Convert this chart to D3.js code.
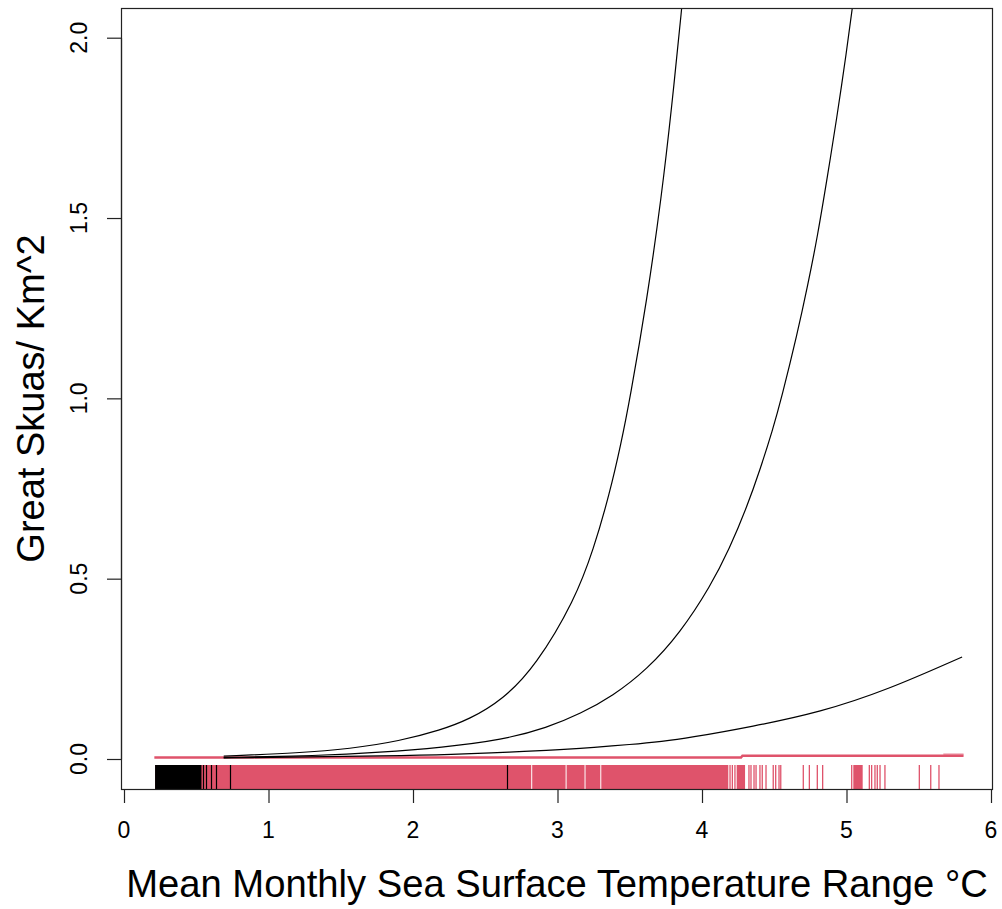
<!DOCTYPE html>
<html>
<head>
<meta charset="utf-8">
<script src="https://cdn.jsdelivr.net/npm/d3@7"></script>
<style>
  html, body { margin: 0; padding: 0; background: #fff; }
  svg { display: block; }
  text { font-family: "Liberation Sans", Arial, sans-serif; fill: #000; }
</style>
</head>
<body>
<script>
// ---------- data ----------
const xTicks = [0, 1, 2, 3, 4, 5, 6];
const yTicks = [0.0, 0.5, 1.0, 1.5, 2.0];
const yTickLabels = ["0.0", "0.5", "1.0", "1.5", "2.0"];

// upper curve
const upperX = [0.69, 1.22, 1.56, 1.91, 2.19, 2.39, 2.62, 2.85, 3.12, 3.25, 3.36, 3.44, 3.50, 3.62, 3.72, 3.79, 3.86, 3.90];
const upperY = [0.008, 0.017, 0.028, 0.050, 0.080, 0.110, 0.164, 0.258, 0.441, 0.582, 0.735, 0.875, 0.996, 1.275, 1.560, 1.805, 2.083, 2.25];
// middle curve
const midX = [0.69, 1.34, 1.77, 2.20, 2.62, 2.93, 3.16, 3.38, 3.62, 3.85, 4.06, 4.19, 4.31, 4.40, 4.49, 4.55, 4.66, 4.73, 4.80, 4.87, 4.93, 5.00, 5.05, 5.09];
const midY = [0.004, 0.009, 0.018, 0.032, 0.053, 0.087, 0.126, 0.174, 0.248, 0.350, 0.480, 0.583, 0.698, 0.800, 0.914, 1.000, 1.180, 1.310, 1.450, 1.620, 1.770, 1.960, 2.110, 2.240];
// lower curve
const lowX = [0.69, 1.92, 2.28, 2.55, 2.76, 3.02, 3.25, 3.50, 3.73, 3.90, 4.35, 4.82, 5.28, 5.80];
const lowY = [0.003, 0.009, 0.013, 0.017, 0.021, 0.026, 0.032, 0.040, 0.049, 0.058, 0.090, 0.130, 0.191, 0.283];

// red near-zero line
const redX = [0.21, 4.27, 4.28, 5.81];
const redY = [0.004, 0.004, 0.009, 0.009];
const redX2 = [5.67, 5.81];
const redY2 = [0.013, 0.013];

// red rug: solid stretches [from, to] and single ticks
const redRugStart = [0.215, 2.825, 3.063, 3.194, 3.303, 4.240, 5.047];
const redRugEnd   = [2.818, 3.056, 3.187, 3.296, 4.182, 4.298, 5.112];
const redRugTicks = [4.194, 4.210, 4.228, 4.325, 4.339, 4.360, 4.374, 4.401, 4.417, 4.443, 4.493, 4.510, 4.533, 4.545,
                     4.701, 4.743, 4.798, 4.835, 5.036, 5.158, 5.174, 5.197, 5.213, 5.232, 5.266, 5.504, 5.583, 5.640];
// black rug
const blackRugStart = [0.215];
const blackRugEnd   = [0.536];
const blackRugTicks = [0.547, 0.570, 0.604, 0.639, 0.733, 2.653];

// ---------- layout ----------
const W = 1002, H = 909;
const box = {left: 121, right: 993, top: 8, bottom: 789};
const RED = "#DF536B";

const svg = d3.select("body").append("svg").attr("width", W).attr("height", H);

const x = d3.scaleLinear().domain([0, 6]).range([124, 991]);
const y = d3.scaleLinear().domain([0, 2]).range([759, 37.7]);

svg.append("clipPath").attr("id", "plotclip")
  .append("rect").attr("x", box.left).attr("y", box.top)
  .attr("width", box.right - box.left).attr("height", box.bottom - box.top);

const plot = svg.append("g").attr("clip-path", "url(#plotclip)");

const line = d3.line().x(d => x(d[0])).y(d => y(d[1])).curve(d3.curveBasis);
const zip = (a, b) => a.map((v, i) => [v, b[i]]);

// rug (red first, black on top)
const rugTop = box.bottom - 24;
plot.selectAll("rect.redrug").data(zip(redRugStart, redRugEnd)).enter().append("rect")
  .attr("x", d => x(d[0])).attr("width", d => Math.max(1, x(d[1]) - x(d[0])))
  .attr("y", rugTop).attr("height", box.bottom - rugTop).attr("fill", RED);
plot.selectAll("line.redrug").data(redRugTicks).enter().append("line")
  .attr("x1", d => x(d)).attr("x2", d => x(d))
  .attr("y1", rugTop).attr("y2", box.bottom).attr("stroke", RED).attr("stroke-width", 1.3);
plot.selectAll("rect.blackrug").data(zip(blackRugStart, blackRugEnd)).enter().append("rect")
  .attr("x", d => x(d[0])).attr("width", d => x(d[1]) - x(d[0]))
  .attr("y", rugTop).attr("height", box.bottom - rugTop).attr("fill", "#000");
plot.selectAll("line.blackrug").data(blackRugTicks).enter().append("line")
  .attr("x1", d => Math.round(x(d)) + 0.5).attr("x2", d => Math.round(x(d)) + 0.5)
  .attr("y1", rugTop).attr("y2", box.bottom).attr("stroke", "#000").attr("stroke-width", 1.2);

// red line
plot.append("path").datum(zip(redX2, redY2)).attr("d", d3.line().x(d => x(d[0])).y(d => y(d[1])))
  .attr("fill", "none").attr("stroke", RED).attr("stroke-opacity", 0.5).attr("stroke-width", 2);
plot.append("path").datum(zip(redX, redY)).attr("d", d3.line().x(d => x(d[0])).y(d => y(d[1])))
  .attr("fill", "none").attr("stroke", RED).attr("stroke-width", 2.5);

// curves
[[upperX, upperY], [midX, midY], [lowX, lowY]].forEach(([a, b]) => {
  plot.append("path").datum(zip(a, b)).attr("d", line)
    .attr("fill", "none").attr("stroke", "#000").attr("stroke-width", 1.2);
});

// box
svg.append("rect").attr("x", box.left + 0.5).attr("y", box.top + 0.5)
  .attr("width", box.right - box.left - 1).attr("height", box.bottom - box.top)
  .attr("fill", "none").attr("stroke", "#222").attr("stroke-width", 1.2);

// x axis
const xAxis = d3.axisBottom(x).tickValues(xTicks).tickSize(14).tickSizeOuter(0).tickFormat("");
const gx = svg.append("g").attr("transform", `translate(0,${box.bottom})`).call(xAxis);
gx.select(".domain").attr("stroke", "#222").attr("stroke-width", 1.2);
gx.selectAll(".tick line").attr("stroke", "#222").attr("stroke-width", 1.2);
svg.selectAll("text.xtl").data(xTicks).enter().append("text")
  .attr("x", d => x(d)).attr("y", 838).attr("text-anchor", "middle")
  .attr("font-size", 23).text(d => d);

// y axis
const yAxis = d3.axisLeft(y).tickValues(yTicks).tickSize(14).tickSizeOuter(0).tickFormat("");
const gy = svg.append("g").attr("transform", `translate(${box.left},0)`).call(yAxis);
gy.select(".domain").attr("stroke", "#222").attr("stroke-width", 1.2);
gy.selectAll(".tick line").attr("stroke", "#222").attr("stroke-width", 1.2);
svg.selectAll("text.ytl").data(yTicks).enter().append("text")
  .attr("transform", (d, i) => `translate(87,${y(d)}) rotate(-90)`)
  .attr("text-anchor", "middle").attr("font-size", 23)
  .text((d, i) => yTickLabels[i]);

// axis titles
svg.append("text").attr("x", (box.left + box.right) / 2).attr("y", 897)
  .attr("text-anchor", "middle").attr("font-size", 38.2)
  .text("Mean Monthly Sea Surface Temperature Range \u00B0C");
svg.append("text").attr("transform", `translate(44,${(box.top + box.bottom) / 2}) rotate(-90)`)
  .attr("text-anchor", "middle").attr("font-size", 38)
  .text("Great Skuas/ Km^2");
</script>
</body>
</html>
